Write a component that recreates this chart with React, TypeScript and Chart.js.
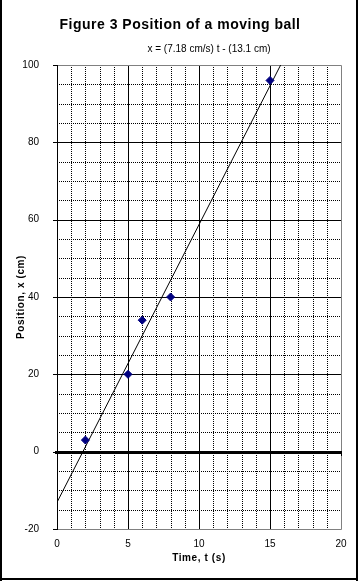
import React, { useEffect, useRef } from "react";
import { Chart, registerables } from "chart.js";

Chart.register(...registerables);

const titleText = "Figure 3 Position of a moving ball";
const subtitleText = "x = (7.18 cm/s) t - (13.1 cm)";
const xTitle = "Time, t (s)";
const yTitle = "Position, x (cm)";

const timeValues = [2, 5, 6, 8, 15];
const positionValues = [3, 20, 34, 40, 96];

const fitTimes = [0, 15.75];
const fitPositions = [-13.1, 100];

const xMin = 0, xMax = 20, xMajor = 5, xMinor = 1;
const yMin = -20, yMax = 100, yMajor = 20, yMinor = 5;

const FONT = "'Liberation Sans', Arial, sans-serif";

const decorPlugin = {
  id: "decor",
  beforeDatasetsDraw(chart: any) {
    const { ctx, chartArea, scales } = chart;
    const xs = scales.x, ys = scales.y;
    const L = Math.round(chartArea.left), R = Math.round(chartArea.right);
    const T = Math.round(chartArea.top), B = Math.round(chartArea.bottom);
    ctx.save();
    ctx.lineWidth = 1;
    ctx.strokeStyle = "#000";
    ctx.setLineDash([1, 1]);
    for (let v = xMin; v <= xMax; v += xMinor) {
      if (v % xMajor === 0) continue;
      const px = Math.round(xs.getPixelForValue(v)) + 0.5;
      ctx.beginPath(); ctx.moveTo(px, T); ctx.lineTo(px, B); ctx.stroke();
    }
    for (let v = yMin; v <= yMax; v += yMinor) {
      if (v % yMajor === 0) continue;
      const py = Math.round(ys.getPixelForValue(v)) + 0.5;
      ctx.beginPath(); ctx.moveTo(L, py); ctx.lineTo(R, py); ctx.stroke();
    }
    ctx.setLineDash([]);
    for (let v = xMin + xMajor; v < xMax; v += xMajor) {
      const px = Math.round(xs.getPixelForValue(v)) + 0.5;
      ctx.beginPath(); ctx.moveTo(px, T); ctx.lineTo(px, B); ctx.stroke();
    }
    for (let v = yMin + yMajor; v < yMax; v += yMajor) {
      if (v === 0) continue;
      const py = Math.round(ys.getPixelForValue(v)) + 0.5;
      ctx.beginPath(); ctx.moveTo(L, py); ctx.lineTo(R, py); ctx.stroke();
    }
    ctx.strokeStyle = "#808080";
    ctx.beginPath();
    ctx.moveTo(L, T + 0.5); ctx.lineTo(R + 0.5, T + 0.5);
    ctx.lineTo(R + 0.5, B + 0.5); ctx.lineTo(L, B + 0.5);
    ctx.stroke();
    ctx.strokeStyle = "#000";
    ctx.beginPath(); ctx.moveTo(L + 0.5, T); ctx.lineTo(L + 0.5, B + 1); ctx.stroke();
    for (let v = yMin; v <= yMax; v += yMajor) {
      const py = Math.round(ys.getPixelForValue(v)) + 0.5;
      ctx.beginPath(); ctx.moveTo(L - 4, py); ctx.lineTo(L, py); ctx.stroke();
    }
    const zy = Math.round(ys.getPixelForValue(0));
    ctx.fillStyle = "#000";
    ctx.fillRect(L - 2, zy - 1, R - L + 3, 3);
    for (let v = xMin; v <= xMax; v += xMajor) {
      const px = Math.round(xs.getPixelForValue(v));
      ctx.fillRect(px, zy + 2, 1, 2);
    }
    ctx.restore();
  },
  afterDraw(chart: any) {
    const { ctx, chartArea } = chart;
    const cx = (chartArea.left + chartArea.right) / 2;
    const cy = (chartArea.top + chartArea.bottom) / 2;
    ctx.save();
    ctx.fillStyle = "#000";
    ctx.fillRect(0, 0, 2, 581);
    ctx.fillRect(356, 0, 2, 581);
    ctx.fillRect(0, 578, 358, 2);
    ctx.textBaseline = "middle";
    ctx.textAlign = "center";
    ctx.font = `bold 14px ${FONT}`;
    (ctx as any).letterSpacing = "0.5px";
    ctx.fillText(titleText, 180, 25);
    (ctx as any).letterSpacing = "0px";
    ctx.font = `10px ${FONT}`;
    ctx.fillText(subtitleText, 209, 49);
    ctx.font = `bold 10px ${FONT}`;
    (ctx as any).letterSpacing = "0.6px";
    ctx.fillText(xTitle, cx, 558);
    ctx.translate(21, cy);
    ctx.rotate(-Math.PI / 2);
    ctx.fillText(yTitle, 0, 0);
    ctx.restore();
  },
};

export default function App() {
  const ref = useRef<HTMLCanvasElement>(null);
  useEffect(() => {
    if (!ref.current) return;
    const chart = new Chart(ref.current, {
      type: "scatter",
      data: {
        datasets: [
          {
            label: "data",
            data: timeValues.map((t, i) => ({ x: t, y: positionValues[i] })),
            pointStyle: "rectRot",
            pointRadius: 4,
            backgroundColor: "#000080",
            borderColor: "#000080",
            borderWidth: 1,
            showLine: false,
            order: 1,
          },
          {
            label: "fit",
            data: fitTimes.map((t, i) => ({ x: t, y: fitPositions[i] })),
            showLine: true,
            borderColor: "#000",
            borderWidth: 1,
            pointRadius: 0,
            order: 2,
          },
        ],
      },
      options: {
        responsive: false,
        animation: false,
        layout: { padding: { left: 0, top: 65, right: 18, bottom: 0 } },
        plugins: { legend: { display: false }, title: { display: false }, tooltip: { enabled: false } },
        scales: {
          x: {
            type: "linear",
            min: xMin,
            max: xMax,
            grid: { display: false },
            border: { display: false },
            ticks: { stepSize: xMajor, color: "#000", padding: 1, font: { family: FONT, size: 10 } },
            afterFit: (s: any) => { s.height = 52; },
          },
          y: {
            type: "linear",
            min: yMin,
            max: yMax,
            grid: { display: false },
            border: { display: false },
            ticks: { stepSize: yMajor, color: "#000", padding: 10, font: { family: FONT, size: 10 } },
            afterFit: (s: any) => { s.width = 57; },
          },
        },
      },
      plugins: [decorPlugin],
    });
    return () => chart.destroy();
  }, []);
  return (
    <div style={{ position: "absolute", left: 0, top: 0, width: 359, height: 581, background: "#fff" }}>
      <canvas ref={ref} width={359} height={581} style={{ display: "block" }} />
    </div>
  );
}
